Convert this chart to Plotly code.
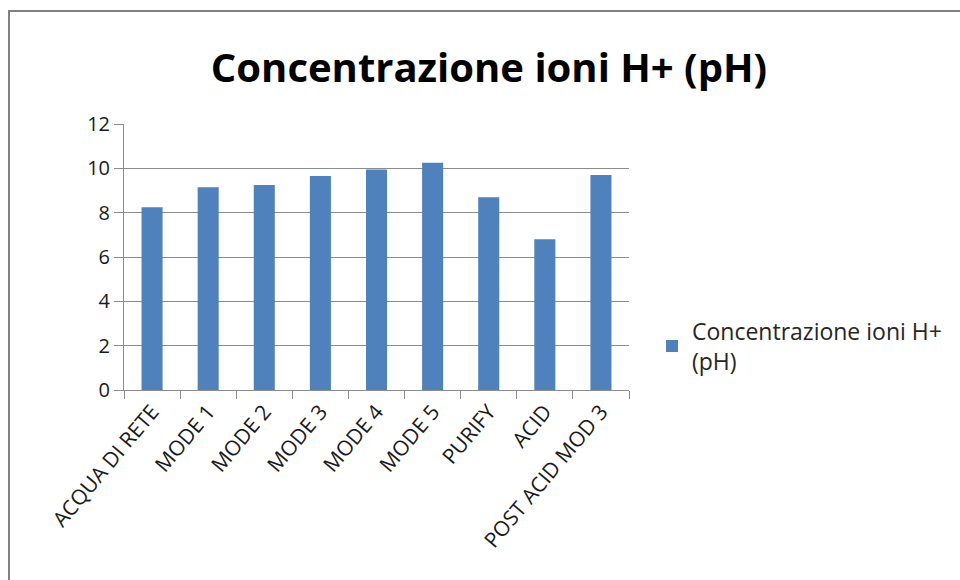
import plotly.graph_objects as go

categories = ["ACQUA DI RETE", "MODE 1", "MODE 2", "MODE 3", "MODE 4", "MODE 5",
              "PURIFY", "ACID", "POST ACID MOD 3"]
ph_values = [8.25, 9.15, 9.25, 9.65, 9.95, 10.25, 8.7, 6.8, 9.7]
series_name = "Concentrazione ioni H+<br>(pH)"
title_text = "Concentrazione ioni H+ (pH)"
y_ticks = [0, 2, 4, 6, 8, 10, 12]

# body margin is removed by a post script, so the figure sits at (0, 0)
OFF = 0
W, H = 960, 580
L, R, T, B = 124 - OFF, W - (629 - OFF), 124 - OFF, H - (390 - OFF)
pw, ph = W - L - R, H - T - B


def px_x(p):  # page pixel -> paper x
    return (p - OFF - L) / pw


def px_y(p):  # page pixel -> paper y
    return 1 - (p - OFF - T) / ph


fig = go.Figure()
fig.add_trace(go.Bar(
    x=categories, y=ph_values, name=series_name,
    marker=dict(color="#4F81BD", line=dict(width=0)),
    width=0.375, showlegend=True,
))

font_family = "Open Sans, Noto Sans, sans-serif"
border = dict(color="#808080", width=2)
fig.update_layout(
    width=W, height=H,
    margin=dict(l=L, r=R, t=T, b=B, pad=0),
    paper_bgcolor="white", plot_bgcolor="white",
    title=dict(text="<b>" + title_text + "</b>", x=px_x(489), xref="paper",
               xanchor="center", y=1 - (68 - OFF) / H, yanchor="middle",
               font=dict(family=font_family, size=40, color="black")),
    showlegend=True,
    legend=dict(x=px_x(652), y=px_y(346), xanchor="left", yanchor="middle",
                font=dict(family=font_family, size=23, color="#262626"),
                bgcolor="rgba(0,0,0,0)", itemwidth=30, tracegroupgap=0),
    xaxis=dict(type="category", showgrid=False, showline=True, linecolor="#8c8c8c",
               linewidth=1, ticks="outside", tickson="boundaries", ticklen=8,
               tickcolor="#8c8c8c", tickangle=-50,
               tickfont=dict(family=font_family, size=21, color="#1a1a1a")),
    yaxis=dict(range=[0, 12], tickvals=y_ticks, showgrid=True, gridcolor="#8c8c8c",
               gridwidth=1, showline=True, linecolor="#8c8c8c", linewidth=1,
               ticks="outside", ticklen=9, tickcolor="#8c8c8c", zeroline=False,
               tickfont=dict(family=font_family, size=20, color="#1a1a1a")),
    shapes=[
        dict(type="line", xref="paper", yref="paper",
             x0=px_x(9), x1=px_x(9), y0=px_y(580), y1=px_y(10), line=border,
             layer="below"),
        dict(type="line", xref="paper", yref="paper",
             x0=px_x(8), x1=px_x(960), y0=px_y(11), y1=px_y(11), line=border,
             layer="below"),
    ],
)

fig.write_html(
    "out.html",
    config={"displayModeBar": False},
    post_script="document.body.style.margin='0';document.body.style.overflow='hidden';",
)
